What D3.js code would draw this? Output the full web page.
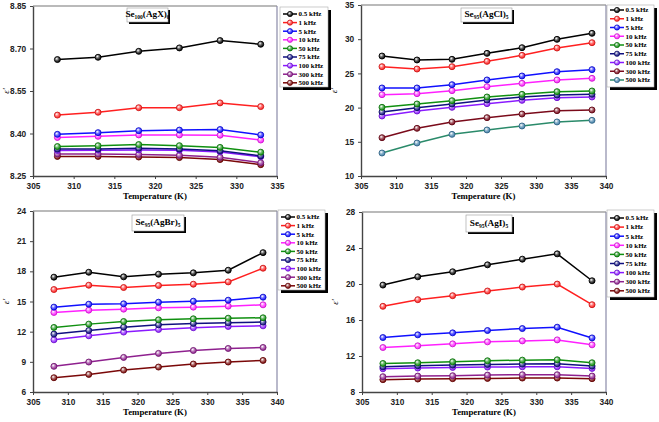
<!DOCTYPE html>
<meta charset="utf-8">
<style>
body { margin: 0; background: #fff; }
svg { display: block; font-family: "Liberation Serif", "Times New Roman", serif; }
.tick text { font-size: 8.3px; font-weight: bold; fill: #222; }
.xlab { font-size: 8.8px; font-weight: bold; }
.ylab { font-size: 9px; font-style: italic; }
.leg text { font-size: 7px; font-weight: bold; }
.ttl { font-size: 9.2px; font-weight: bold; }
</style>
<svg width="659" height="422"></svg>
<script src="https://d3js.org/d3.v7.min.js"></script>
<script>

// frequency labels (legend)
var freqs = ["0.5 kHz", "1 kHz", "5 kHz", "10 kHz", "50 kHz", "75 kHz", "100 kHz", "300 kHz", "500 kHz"];

// temperatures (K)
var tempAgX = [308, 313, 318, 323, 328, 333];
var tempHal = [308, 313, 318, 323, 328, 333, 338];

// dielectric constant, one row per frequency
var epsAgX = [
  [8.661, 8.669, 8.690, 8.702, 8.728, 8.715],
  [8.465, 8.475, 8.491, 8.491, 8.508, 8.495],
  [8.397, 8.403, 8.410, 8.412, 8.414, 8.395],
  [8.386, 8.390, 8.395, 8.395, 8.394, 8.377],
  [8.354, 8.357, 8.361, 8.357, 8.351, 8.334],
  [8.345, 8.345, 8.348, 8.345, 8.339, 8.321],
  [8.340, 8.341, 8.342, 8.341, 8.335, 8.318],
  [8.328, 8.328, 8.326, 8.323, 8.316, 8.297],
  [8.319, 8.319, 8.317, 8.315, 8.308, 8.290]
];
var epsAgCl = [
  [27.54, 26.96, 27.06, 27.93, 28.76, 29.98, 30.86],
  [25.98, 25.64, 25.98, 26.76, 27.64, 28.71, 29.49],
  [22.87, 22.87, 23.35, 24.04, 24.62, 25.25, 25.55],
  [21.89, 22.04, 22.48, 23.06, 23.55, 24.04, 24.28],
  [20.04, 20.53, 21.01, 21.55, 21.94, 22.33, 22.43],
  [19.36, 19.99, 20.53, 21.11, 21.55, 21.84, 21.94],
  [18.77, 19.50, 20.04, 20.58, 21.06, 21.45, 21.55],
  [15.60, 16.97, 17.90, 18.53, 19.06, 19.55, 19.65],
  [13.36, 14.82, 16.09, 16.73, 17.31, 17.90, 18.14]
];
var epsAgBr = [
  [17.42, 17.91, 17.45, 17.71, 17.85, 18.11, 19.86],
  [16.19, 16.62, 16.39, 16.59, 16.72, 16.95, 18.31],
  [14.44, 14.73, 14.77, 14.93, 15.03, 15.13, 15.43],
  [13.91, 14.14, 14.24, 14.37, 14.44, 14.54, 14.67],
  [12.42, 12.75, 13.01, 13.18, 13.28, 13.34, 13.38],
  [11.76, 12.12, 12.45, 12.68, 12.82, 12.88, 12.95],
  [11.19, 11.59, 11.96, 12.22, 12.39, 12.52, 12.58],
  [8.55, 8.98, 9.44, 9.84, 10.13, 10.33, 10.43],
  [7.42, 7.75, 8.18, 8.48, 8.78, 8.98, 9.14]
];
var epsAgI = [
  [19.88, 20.80, 21.36, 22.13, 22.76, 23.35, 20.36],
  [17.52, 18.26, 18.70, 19.22, 19.66, 19.99, 17.70],
  [14.05, 14.35, 14.57, 14.83, 15.05, 15.20, 14.01],
  [12.94, 13.13, 13.35, 13.57, 13.68, 13.79, 13.24],
  [11.17, 11.25, 11.36, 11.47, 11.54, 11.58, 11.25],
  [10.80, 10.92, 10.99, 11.06, 11.10, 11.14, 10.88],
  [10.58, 10.66, 10.73, 10.77, 10.80, 10.80, 10.62],
  [9.70, 9.77, 9.81, 9.88, 9.92, 9.92, 9.77],
  [9.37, 9.44, 9.48, 9.51, 9.55, 9.55, 9.48]
];

var colorsA = ["#000000", "#ff2020", "#1010ff", "#ff20ff", "#109010", "#101080", "#8a1aff", "#8e208e", "#7a0808"];
var colorsCl = ["#000000", "#ff2020", "#1010ff", "#ff20ff", "#109010", "#101080", "#8a1aff", "#7a0a1a", "#2a8a6a"];
var markerCl500 = "#3f7fa8";

var panels = [
  { x0: 33, x1: 277, y0: 6, y1: 176, xDom: [305, 335], yDom: [8.25, 8.85], yStep: 0.15, fmt: ".2f",
    temps: tempAgX, eps: epsAgX, colors: colorsA,
    sub1: "100", name: "(AgX)", sub2: "0", tb: [127, 8, 41, 14], lg: [280, 7, 48, 80], rowY: 14, rowH: 8.6, xl: 199 },
  { x0: 361, x1: 606, y0: 5, y1: 176, xDom: [305, 340], yDom: [10, 35], yStep: 5, fmt: "d",
    temps: tempHal, eps: epsAgCl, colors: colorsCl,
    sub1: "95", name: "(AgCl)", sub2: "5", tb: [461, 8, 51, 14], lg: [607, 5, 47, 82], rowY: 10, rowH: 8.75, xl: 199 },
  { x0: 33, x1: 277, y0: 211, y1: 392, xDom: [305, 340], yDom: [6, 24], yStep: 3, fmt: "d",
    temps: tempHal, eps: epsAgBr, colors: colorsA,
    sub1: "95", name: "(AgBr)", sub2: "5", tb: [132, 215, 52, 16], lg: [278, 210, 47, 80], rowY: 217, rowH: 8.6, xl: 415 },
  { x0: 362, x1: 606, y0: 212, y1: 392, xDom: [305, 340], yDom: [8, 28], yStep: 4, fmt: "d",
    temps: tempHal, eps: epsAgI, colors: colorsA,
    sub1: "95", name: "(AgI)", sub2: "5", tb: [466, 215, 46, 17], lg: [607, 210, 47, 87], rowY: 218, rowH: 9.1, xl: 415 }
];

var svg = d3.select("svg");
var defs = svg.append("defs");
var gradIds = {};
function grad(c) {
  if (gradIds[c]) return gradIds[c];
  var id = "g" + Object.keys(gradIds).length;
  var g = defs.append("radialGradient").attr("id", id).attr("cx", "38%").attr("cy", "35%").attr("r", "65%");
  g.append("stop").attr("offset", "0%").attr("stop-color", "#fff");
  g.append("stop").attr("offset", "45%").attr("stop-color", d3.interpolateRgb("#fff", c)(0.6));
  g.append("stop").attr("offset", "100%").attr("stop-color", c);
  gradIds[c] = "url(#" + id + ")";
  return gradIds[c];
}

panels.forEach(function(p, pi) {
  var x = d3.scaleLinear().domain(p.xDom).range([p.x0, p.x1]);
  var y = d3.scaleLinear().domain(p.yDom).range([p.y1, p.y0]);
  var g = svg.append("g");

  // frame
  g.append("line").attr("x1", p.x0).attr("x2", p.x1).attr("y1", p.y0).attr("y2", p.y0).attr("stroke", "#777").attr("stroke-width", 1.2);
  g.append("line").attr("x1", p.x1).attr("x2", p.x1).attr("y1", p.y0).attr("y2", p.y1).attr("stroke", "#8a8aa8").attr("stroke-width", 1.2);

  var xTicks = d3.range(p.xDom[0], p.xDom[1] + 0.1, 5);
  var yTicks = d3.range(p.yDom[0], p.yDom[1] + p.yStep / 2, p.yStep);

  var xa = g.append("g").attr("transform", "translate(0," + p.y1 + ")")
    .call(d3.axisBottom(x).tickValues(xTicks).tickSize(3).tickSizeOuter(0).tickFormat(d3.format("d")));
  var ya = g.append("g").attr("transform", "translate(" + p.x0 + ",0)")
    .call(d3.axisLeft(y).tickValues(yTicks).tickSize(3).tickSizeOuter(0).tickFormat(d3.format(p.fmt)));
  [xa, ya].forEach(function(a) {
    a.select(".domain").attr("stroke", "#444").attr("stroke-width", 1.4);
    a.selectAll(".tick line").attr("stroke", "#444").attr("stroke-width", 1);
  });
  xa.selectAll(".tick text").attr("dy", "0.9em");
  ya.selectAll(".tick text").attr("dx", "-0.1em");

  g.append("text").attr("class", "xlab").attr("x", (p.x0 + p.x1) / 2).attr("y", p.xl)
    .attr("text-anchor", "middle").text("Temperature (K)");
  g.append("text").attr("class", "ylab")
    .attr("transform", "translate(" + (p.x0 - 24) + "," + ((p.y0 + p.y1) / 2) + ") rotate(-90)")
    .attr("text-anchor", "middle").text("ε'");

  var line = d3.line().x(function(d, i) { return x(p.temps[i]); }).y(function(d) { return y(d); });

  // draw low frequencies on top
  for (var k = p.eps.length - 1; k >= 0; k--) {
    var c = p.colors[k];
    var mc = (pi === 1 && k === 8) ? markerCl500 : c;
    var s = g.append("g");
    s.append("path").datum(p.eps[k]).attr("d", line).attr("fill", "none")
      .attr("stroke", c).attr("stroke-width", 1.5);
    s.selectAll("circle").data(p.eps[k]).join("circle")
      .attr("cx", function(d, i) { return x(p.temps[i]); })
      .attr("cy", function(d) { return y(d); })
      .attr("r", 3)
      .attr("fill", grad(mc))
      .attr("stroke", d3.color(mc).darker(0.6)).attr("stroke-width", 0.9);
  }

  // title box
  var tb = p.tb;
  g.append("rect").attr("x", tb[0] + 2).attr("y", tb[1] + 2).attr("width", tb[2]).attr("height", tb[3]).attr("fill", "#000");
  g.append("rect").attr("x", tb[0]).attr("y", tb[1]).attr("width", tb[2]).attr("height", tb[3]).attr("fill", "#fff").attr("stroke", "#999").attr("stroke-width", 0.6);
  var t = g.append("text").attr("class", "ttl").attr("x", tb[0] + tb[2] / 2).attr("y", tb[1] + tb[3] / 2 + 2).attr("text-anchor", "middle");
  t.append("tspan").text("Se");
  t.append("tspan").attr("font-size", "5.5px").attr("dy", 2).text(p.sub1);
  t.append("tspan").attr("dy", -2).text(p.name);
  t.append("tspan").attr("font-size", "5.5px").attr("dy", 2).text(p.sub2);

  // legend
  var lg = p.lg;
  var leg = g.append("g").attr("class", "leg");
  leg.append("rect").attr("x", lg[0] + 3).attr("y", lg[1] + 3).attr("width", lg[2]).attr("height", lg[3]).attr("fill", "#000");
  leg.append("rect").attr("x", lg[0]).attr("y", lg[1]).attr("width", lg[2]).attr("height", lg[3]).attr("fill", "#fff").attr("stroke", "#aaa").attr("stroke-width", 0.6);
  freqs.forEach(function(f, k) {
    var ry = p.rowY + k * p.rowH;
    var c = p.colors[k];
    var mc = (pi === 1 && k === 8) ? markerCl500 : c;
    leg.append("line").attr("x1", lg[0] + 3).attr("x2", lg[0] + 17).attr("y1", ry).attr("y2", ry)
      .attr("stroke", c).attr("stroke-width", 1.5);
    leg.append("circle").attr("cx", lg[0] + 10).attr("cy", ry).attr("r", 2.6)
      .attr("fill", grad(mc)).attr("stroke", d3.color(mc).darker(0.6)).attr("stroke-width", 0.8);
    leg.append("text").attr("x", lg[0] + 18.5).attr("y", ry + 2.3).text(f);
  });
});

</script>
